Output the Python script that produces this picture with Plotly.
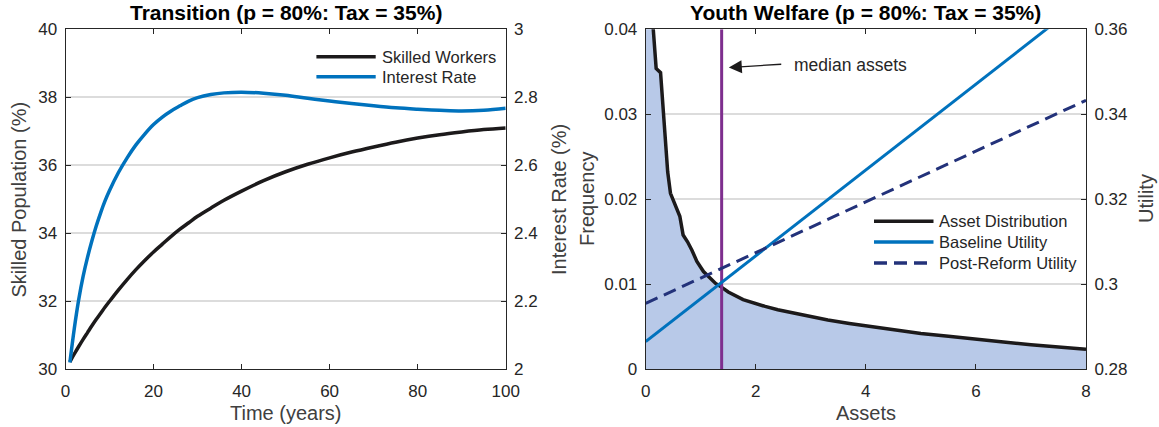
import plotly.graph_objects as go

# ---------------- data ----------------
time_years = [1, 2, 3, 4, 5, 6, 7, 8, 9, 10, 12, 14, 16, 18, 20, 22, 24, 26, 28, 30, 33, 36, 40, 45, 50, 55,
              60, 65, 70, 75, 80, 85, 90, 95, 100]
skilled_pct = [30.22, 30.45, 30.67, 30.88, 31.08, 31.28, 31.47, 31.65, 31.83, 32.0, 32.33, 32.64, 32.93, 33.2,
               33.45, 33.68, 33.91, 34.12, 34.31, 34.5, 34.74, 34.97, 35.24, 35.55, 35.81, 36.03, 36.22, 36.39,
               36.54, 36.68, 36.8, 36.9, 36.98, 37.05, 37.1]
interest_pct = [2.02, 2.12, 2.205, 2.273, 2.329, 2.378, 2.422, 2.461, 2.496, 2.526, 2.578, 2.622, 2.66, 2.692,
                2.72, 2.742, 2.76, 2.775, 2.789, 2.799, 2.808, 2.813, 2.815, 2.812, 2.806, 2.797, 2.789, 2.782,
                2.775, 2.769, 2.765, 2.762, 2.76, 2.762, 2.768]

assets = [0.0, 0.13, 0.19, 0.27, 0.33, 0.40, 0.45, 0.55, 0.62, 0.68, 0.76, 0.84, 0.93, 1.05, 1.17, 1.27,
          1.37, 1.5, 1.77, 2.0, 2.17, 2.4, 2.68, 3.0, 3.31, 3.7, 4.12, 4.5, 5.0, 5.5, 6.0, 6.5, 7.0, 7.5, 8.0]
frequency = [0.052, 0.040, 0.0354, 0.0349, 0.029, 0.0232, 0.0207, 0.0192, 0.0180, 0.0158, 0.0150, 0.0140,
             0.0127, 0.0115, 0.0107, 0.0101, 0.0097, 0.0091, 0.0082, 0.0077, 0.0074, 0.0070, 0.0066, 0.0062,
             0.0058, 0.0054, 0.0050, 0.0046, 0.0042, 0.0039, 0.0035, 0.0032, 0.0029, 0.0026, 0.00236]

utility_assets = [0, 8]
baseline_utility = [0.2865, 0.3673]
post_reform_utility = [0.2955, 0.3433]
median_assets = 1.38

x1_ticks = [0, 20, 40, 60, 80, 100]
y1_ticks = [30, 32, 34, 36, 38, 40]
y2_ticks = [2, 2.2, 2.4, 2.6, 2.8, 3]
x2_ticks = [0, 2, 4, 6, 8]
y3_ticks = [0, 0.01, 0.02, 0.03, 0.04]
y4_ticks = [0.28, 0.3, 0.32, 0.34, 0.36]

# ---------------- style ----------------
W, H = 1159, 427
FONT = "Liberation Sans, Arial, Helvetica, sans-serif"
TXT = "#262626"
LBL = "#404040"
GRID = "#dcdcdc"
BLACK = "#1c1a1b"
BLUE = "#0072BD"
NAVY = "#23327a"
PURPLE = "#7E2F8E"
FILL = "#b8c9e8"

L1, R1 = 65.5, 505.7
L2, R2 = 645.7, 1086.0
TOP, BOT = 29.3, 369.3


def px(x):
    return x / W


def py(y):
    return 1 - y / H


fig = go.Figure()

# left panel
fig.add_trace(go.Scatter(x=time_years, y=skilled_pct, mode="lines", line=dict(color=BLACK, width=3.5, shape="spline"),
                         xaxis="x", yaxis="y", showlegend=False))
fig.add_trace(go.Scatter(x=time_years, y=interest_pct, mode="lines", line=dict(color=BLUE, width=3.5, shape="spline"),
                         xaxis="x", yaxis="y2", showlegend=False))

# right panel
fig.add_trace(go.Scatter(x=assets, y=frequency, mode="lines", line=dict(color=FILL, width=0), fill="tozeroy",
                         fillcolor=FILL, xaxis="x2", yaxis="y3", showlegend=False, hoverinfo="skip"))
fig.add_trace(go.Scatter(x=assets, y=frequency, mode="lines", line=dict(color=BLACK, width=3.5),
                         xaxis="x2", yaxis="y3", showlegend=False))
fig.add_trace(go.Scatter(x=[median_assets, median_assets], y=[y3_ticks[0], y3_ticks[-1]], mode="lines",
                         line=dict(color=PURPLE, width=3), xaxis="x2", yaxis="y3", showlegend=False))
fig.add_trace(go.Scatter(x=utility_assets, y=baseline_utility, mode="lines", line=dict(color=BLUE, width=3),
                         xaxis="x2", yaxis="y4", showlegend=False))
fig.add_trace(go.Scatter(x=utility_assets, y=post_reform_utility, mode="lines",
                         line=dict(color=NAVY, width=3, dash="13px,7px"),
                         xaxis="x2", yaxis="y4", showlegend=False))

ax_common = dict(showline=True, linecolor=TXT, linewidth=1, ticks="inside", ticklen=5, tickcolor=TXT,
                 tickwidth=1, tickfont=dict(family=FONT, size=17, color=TXT), zeroline=False, automargin=False)

dom_y = [py(BOT), py(TOP)]
fig.update_layout(
    template="none",
    width=W, height=H, margin=dict(l=0, r=0, t=0, b=0, pad=0),
    paper_bgcolor="white", plot_bgcolor="white",
    font=dict(family=FONT, color=TXT),
    xaxis=dict(domain=[px(L1), px(R1)], range=[0, 100], tickvals=x1_ticks, mirror="ticks", showgrid=False,
               anchor="y", ticklabelstandoff=6, **ax_common),
    yaxis=dict(domain=dom_y, range=[30, 40], tickvals=y1_ticks, showgrid=True, gridcolor=GRID, gridwidth=1.5,
               anchor="x", ticklabelstandoff=4, **ax_common),
    yaxis2=dict(range=[2, 3], tickvals=y2_ticks, overlaying="y", side="right", anchor="x", showgrid=False,
                ticklabelstandoff=4, **ax_common),
    xaxis2=dict(domain=[px(L2), px(R2)], range=[0, 8], tickvals=x2_ticks, mirror="ticks", showgrid=False,
                anchor="y3", ticklabelstandoff=6, **ax_common),
    yaxis3=dict(domain=dom_y, range=[0, 0.04], tickvals=y3_ticks, showgrid=True, gridcolor=GRID, gridwidth=1.5,
                anchor="x2", ticklabelstandoff=4, **ax_common),
    yaxis4=dict(range=[0.28, 0.36], tickvals=y4_ticks, overlaying="y3", side="right", anchor="x2",
                showgrid=False, ticklabelstandoff=4, **ax_common),
)

ann = []
# titles
ann.append(dict(text="<b>Transition (p = 80%: Tax = 35%)</b>", x=px((L1 + R1) / 2), y=py(12.6), xref="paper",
                yref="paper", showarrow=False, font=dict(size=21, color="#000", family=FONT),
                xanchor="center", yanchor="middle"))
ann.append(dict(text="<b>Youth Welfare (p = 80%: Tax = 35%)</b>", x=px((L2 + R2) / 2), y=py(12.6), xref="paper",
                yref="paper", showarrow=False, font=dict(size=21, color="#000", family=FONT),
                xanchor="center", yanchor="middle"))
# axis titles
for text, x, y, ang in [("Time (years)", (L1 + R1) / 2, 413, 0), ("Assets", (L2 + R2) / 2, 413, 0),
                        ("Skilled Population (%)", 18.5, 200, -90), ("Interest Rate (%)", 559, 200, -90),
                        ("Frequency", 587, 199, -90), ("Utility", 1146, 199, -90)]:
    ann.append(dict(text=text, x=px(x), y=py(y), xref="paper", yref="paper", showarrow=False, textangle=ang,
                    font=dict(size=20, color=LBL, family=FONT), xanchor="center", yanchor="middle"))

# median annotation
ann.append(dict(x=1.51, y=0.0355, ax=2.49, ay=0.0359, xref="x2", yref="y3", axref="x2", ayref="y3", text="",
                showarrow=True, arrowhead=2, arrowsize=2, arrowwidth=1.3, arrowcolor=BLACK))
ann.append(dict(x=2.655, y=0.0358, xref="x2", yref="y3", text="median assets", showarrow=False,
                xanchor="left", yanchor="middle", font=dict(size=17.5, color=TXT, family=FONT)))

# custom legends
shapes = []
leg1 = [("Skilled Workers", BLACK, "solid", 56.7), ("Interest Rate", BLUE, "solid", 76.7)]
for text, col, dash, yy in leg1:
    shapes.append(dict(type="line", xref="paper", yref="paper", x0=px(316.4), x1=px(375.7), y0=py(yy), y1=py(yy),
                       line=dict(color=col, width=3.5, dash=dash)))
    ann.append(dict(text=text, x=px(380), y=py(yy), xref="paper", yref="paper", showarrow=False, xanchor="left",
                    yanchor="middle", font=dict(size=16.5, color=TXT, family=FONT)))
leg2 = [("Asset Distribution", BLACK, "solid", 221.3), ("Baseline Utility", BLUE, "solid", 242.0),
        ("Post-Reform Utility", NAVY, "13px,7px", 263.1)]
for text, col, dash, yy in leg2:
    shapes.append(dict(type="line", xref="paper", yref="paper", x0=px(874), x1=px(933.5), y0=py(yy), y1=py(yy),
                       line=dict(color=col, width=3.5, dash=dash)))
    ann.append(dict(text=text, x=px(937), y=py(yy), xref="paper", yref="paper", showarrow=False, xanchor="left",
                    yanchor="middle", font=dict(size=16.5, color=TXT, family=FONT)))

fig.update_layout(annotations=ann, shapes=shapes)
fig.write_html("out.html", config={"displayModeBar": False},
               post_script="document.body.style.margin='0';document.body.style.padding='0';"
                           "document.body.style.overflow='hidden';")
